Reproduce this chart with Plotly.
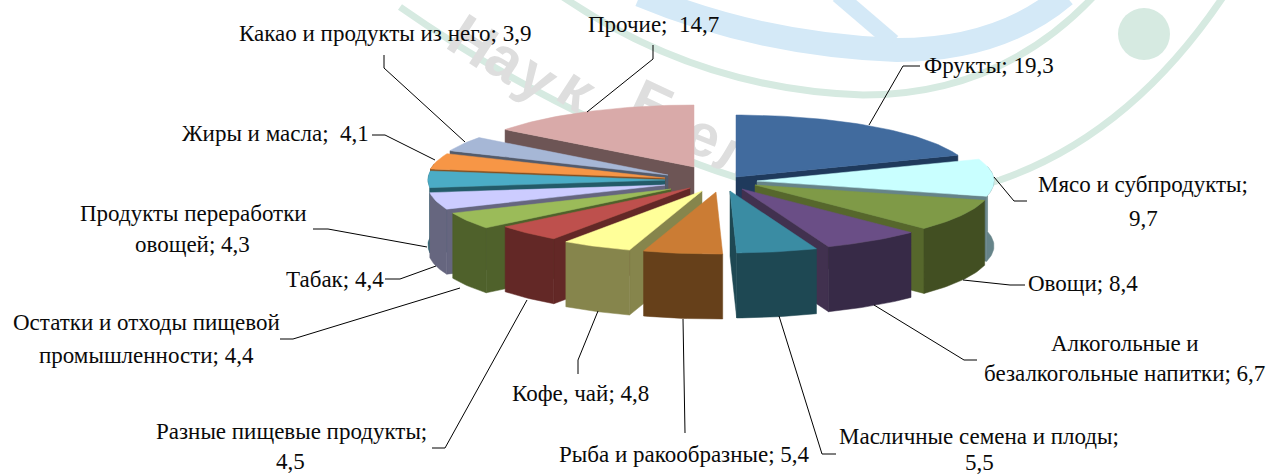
import math
import plotly.graph_objects as go

# ---- data (clockwise from the back of the pie) ----
categories = ["Фрукты", "Мясо и субпродукты", "Овощи", "Алкогольные и безалкогольные напитки",
              "Масличные семена и плоды", "Рыба и ракообразные", "Кофе, чай", "Разные пищевые продукты",
              "Остатки и отходы пищевой промышленности", "Табак", "Продукты переработки овощей",
              "Жиры и масла", "Какао и продукты из него", "Прочие"]
values = [19.3, 9.7, 8.4, 6.7, 5.5, 5.4, 4.8, 4.5, 4.4, 4.4, 4.3, 4.1, 3.9, 14.7]

# ---- styles ----
top_colors = ["#416B9E", "#C9FFFF", "#7F9A47", "#6A4E86", "#3A8CA3", "#CB7C34", "#FFFF99",
              "#BE504D", "#9BBB59", "#CCCCFF", "#4BACC6", "#F79646", "#A6B7D6", "#D9AAA9"]
rim_colors = ["#1F3A5C", "#668489", "#424F22", "#372A47", "#1E4853", "#66401A", "#86854C",
              "#632826", "#4F612B", "#66667F", "#235B69", "#864F1F", "#535B6B", "#6D5555"]
side_colors = ["#1F3A5C", "#668489", "#56672C", "#41314F", "#1E4853", "#66401A", "#86854C",
               "#632826", "#4F612B", "#66667F", "#235B69", "#864F1F", "#535B6B", "#6D5555"]
pull_x = [36, 57, 55, 42, 30, 16, 2, -10, -29, -35, -35, -35, -32, -6]
pull_y = [-5, -1, 3, 7, 9, 10, 9, 6, 7, 3, -2, -4, -7, -15]
draw_order = [13, 0, 12, 11, 10, 1, 9, 2, 8, 3, 7, 4, 6, 5]
CX, CY, RX, RY, DEPTH = 700, 182, 237, 62, 65

fig = go.Figure()


def poly(xs, ys, color):
    fig.add_trace(go.Scatter(x=xs, y=ys, mode="lines", fill="toself", fillcolor=color,
                             line=dict(width=0.5, color=color), hoverinfo="skip", showlegend=False))


total = sum(values)
starts, acc = [], 0.0
for v in values:
    starts.append(acc)
    acc += v

for i in draw_order:
    a1 = starts[i] / total * 2 * math.pi
    a2 = (starts[i] + values[i]) / total * 2 * math.pi
    ax, ay = CX + pull_x[i], CY + pull_y[i]
    n = max(6, int(values[i] * 3))
    th = [a1 + (a2 - a1) * k / n for k in range(n + 1)]
    px = [ax + RX * math.sin(t) for t in th]
    py = [ay - RY * math.cos(t) for t in th]
    # start-edge wall faces the viewer on the left half, end-edge wall on the right half
    if math.sin(a1) < 0:
        poly([ax, px[0], px[0], ax, ax], [ay, py[0], py[0] + DEPTH, ay + DEPTH, ay], side_colors[i])
    if math.sin(a2) > 1e-6:
        poly([ax, px[-1], px[-1], ax, ax], [ay, py[-1], py[-1] + DEPTH, ay + DEPTH, ay], side_colors[i])
    front = [k for k, t in enumerate(th) if math.cos(t) < 0.25]
    if front:
        rx_ = [px[k] for k in front]
        ry_ = [py[k] for k in front]
        poly(rx_ + rx_[::-1] + rx_[:1], ry_ + [y + DEPTH for y in ry_[::-1]] + ry_[:1], rim_colors[i])
    poly([ax] + px + [ax], [ay] + py + [ay], top_colors[i])

# ---- labels ----
def fmt(i):
    return f"{values[i]:.1f}".replace(".", ",")

label_lines = [
    (989, 65, f"Фрукты; {fmt(0)}"),
    (1143, 184, "Мясо и субпродукты;"), (1143, 218, fmt(1)),
    (1083, 283, f"Овощи; {fmt(2)}"),
    (1125, 343, "Алкогольные и"), (1124, 373, f"безалкогольные напитки; {fmt(3)}"),
    (979, 436, "Масличные семена и плоды;"), (979, 462, fmt(4)),
    (684, 454, f"Рыба и ракообразные; {fmt(5)}"),
    (580, 393, f"Кофе, чай; {fmt(6)}"),
    (291, 431, "Разные пищевые продукты;"), (290, 461, fmt(7)),
    (146, 322, "Остатки и отходы пищевой"), (146, 355, f"промышленности; {fmt(8)}"),
    (335, 279, f"Табак; {fmt(9)}"),
    (193, 213, "Продукты переработки"), (192, 244, f"овощей; {fmt(10)}"),
    (275, 133, f"Жиры и масла;\u00a0 {fmt(11)}"),
    (385, 33, f"Какао и продукты из него; {fmt(12)}"),
    (653, 24, f"Прочие;\u00a0 {fmt(13)}"),
]
annotations = [dict(x=x, y=y, text=t, showarrow=False, xanchor="center", yanchor="middle",
                    font=dict(family="Liberation Serif", size=23, color="#0A0A0A"))
               for x, y, t in label_lines]

leaders = [
    [(920, 66), (903, 66), (869, 125)],
    [(1027, 201), (1014, 201), (994, 177)],
    [(1025, 285), (1010, 285), (963, 280)],
    [(977, 360), (964, 360), (874, 305)],
    [(836, 454), (822, 454), (779, 316)],
    [(685, 433), (683, 319)],
    [(578, 374), (578, 360), (598, 311)],
    [(432, 448), (445, 448), (527, 300)],
    [(280, 339), (293, 339), (460, 288)],
    [(385, 279), (400, 279), (436, 266)],
    [(313, 229), (328, 229), (427, 247)],
    [(372, 135), (385, 135), (435, 160)],
    [(384, 55), (384, 68), (465, 142)],
    [(653, 45), (653, 59), (587, 112)],
]
shapes = []

# ---- pale watermark behind the chart ----
GREEN, BLUE, GREY = "#D6EAE1", "#D4E9F7", "#DEDEDE"
wm_paths = [
    ("M 563 -3 Q 700 90 863 95 Q 1000 95 1093 -3", GREEN, 7),
    ("M 400 7 Q 540 105 700 165 Q 860 225 1000 180 Q 1130 135 1223 -3", GREEN, 7),
    ("M 640 -5 Q 760 45 897 50 Q 1000 50 1065 -5", BLUE, 24),
    ("M 838 -5 L 893 42", BLUE, 16),
]
for d, c, w in wm_paths:
    shapes.append(dict(type="path", path=d, line=dict(color=c, width=w), layer="below"))
shapes.append(dict(type="circle", x0=1118, x1=1170, y0=8, y1=60, fillcolor=GREEN, line_width=0, layer="below"))
for ch, x, y, ang, half in [("Н", 476, 36, 33, 34), ("а", 509, 54, 33, 45), ("у", 541, 72, 33, 45),
                            ("к", 580, 84, 33, 45), ("Б", 656, 100, 25, 45), ("е", 706, 130, 22, 45),
                            ("л", 738, 148, 22, 45)]:
    shapes.append(dict(type="rect", x0=x - half, x1=x + half, y0=y - half, y1=y + half, line_width=0, layer="below",
                       fillcolor="rgba(0,0,0,0)",
                       label=dict(text=f"<b>{ch}</b>", textangle=ang, textposition="middle center",
                                  font=dict(family="Liberation Sans", size=60, color=GREY))))

for pts in leaders:
    d = "M " + " L ".join(f"{x} {y}" for x, y in pts)
    shapes.append(dict(type="path", path=d, line=dict(color="#000000", width=1), layer="above"))

fig.update_layout(
    width=1266, height=475, margin=dict(l=0, r=0, t=0, b=0),
    paper_bgcolor="white", plot_bgcolor="rgba(0,0,0,0)", showlegend=False,
    xaxis=dict(range=[0, 1266], visible=False, fixedrange=True),
    yaxis=dict(range=[475, 0], visible=False, fixedrange=True),
    annotations=annotations, shapes=shapes,
)
fig.write_html("out.html", config={"displayModeBar": False},
               post_script="document.body.style.margin='0';")
